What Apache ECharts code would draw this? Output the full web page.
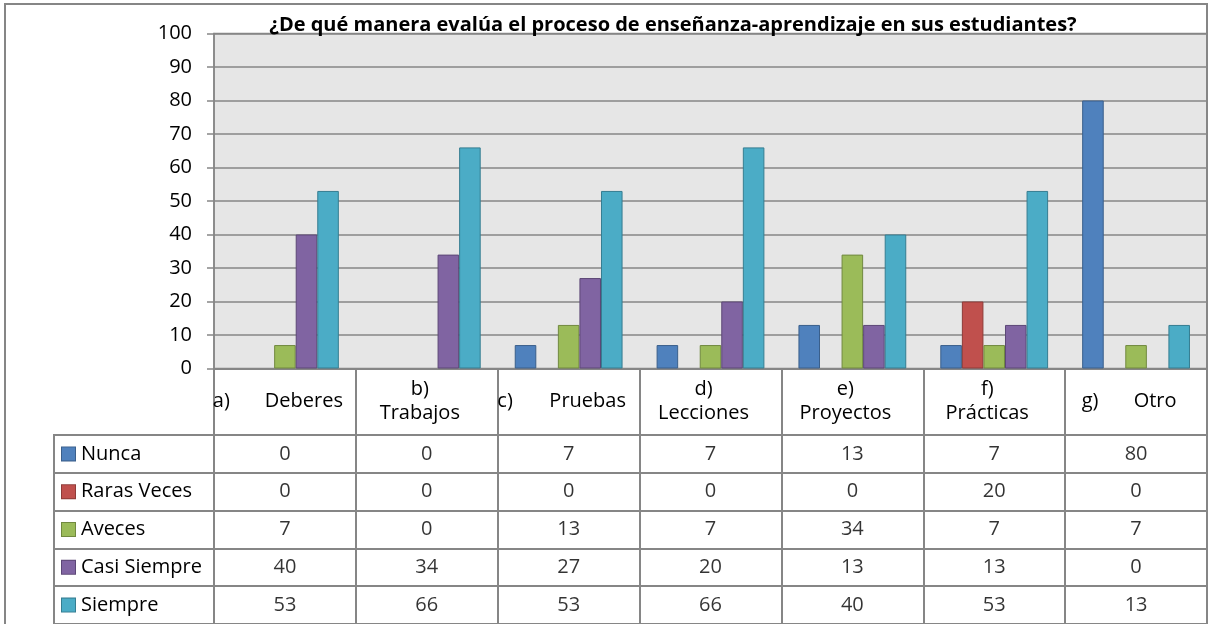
<!DOCTYPE html>
<html>
<head>
<meta charset="utf-8">
<script src="https://cdn.jsdelivr.net/npm/echarts@6/dist/echarts.min.js"></script>
<style>
  html, body { margin: 0; padding: 0; background: #fff; }
  #chart { width: 1208px; height: 624px; }
</style>
</head>
<body>
<div id="chart"></div>
<script>
const title = '¿De qué manera evalúa el proceso de enseñanza-aprendizaje en sus estudiantes?';
const categories = ['a)\tDeberes', 'b)\nTrabajos', 'c)\tPruebas', 'd)\nLecciones', 'e)\nProyectos', 'f)\nPrácticas', 'g)\tOtro'];
const seriesNames = ['Nunca', 'Raras Veces', 'Aveces', 'Casi Siempre', 'Siempre'];

const nunca = [0, 0, 7, 7, 13, 7, 80];
const rarasVeces = [0, 0, 0, 0, 0, 20, 0];
const aveces = [7, 0, 13, 7, 34, 7, 7];
const casiSiempre = [40, 34, 27, 20, 13, 13, 0];
const siempre = [53, 66, 53, 66, 40, 53, 13];

const colors = ['#4F81BD', '#C0504D', '#9BBB59', '#8064A2', '#4BACC6'];
const borders = ['#3A5F8B', '#8E3B38', '#71893F', '#5C4776', '#357D91'];

const allValues = [nunca, rarasVeces, aveces, casiSiempre, siempre];
const lineGrey = '#868686';
const FONT = 'Open Sans';

// legend swatches for the data table
const legendRich = { n: { fontSize: 20, color: '#000', fontFamily: FONT, padding: [0, 0, 0, 6] } };
colors.forEach((c, i) => {
  legendRich['s' + i] = { width: 13, height: 13, backgroundColor: c, borderColor: borders[i], borderWidth: 1 };
});

const barSeries = seriesNames.map((name, i) => ({
  name: name,
  type: 'bar',
  xAxisIndex: 0,
  yAxisIndex: 0,
  barGap: '0%',
  barCategoryGap: '24%',
  itemStyle: { color: colors[i], borderColor: borders[i], borderWidth: 1 },
  // Excel draws nothing for a zero value
  data: allValues[i].map(v => (v === 0 ? '-' : v))
}));

const tableData = [];
allValues.forEach((vals, s) => {
  vals.forEach((v, c) => tableData.push([c, s, v]));
});

const option = {
  animation: false,
  textStyle: { fontFamily: FONT },
  title: {
    text: title,
    left: 668,
    top: 10,
    textAlign: 'center',
    textStyle: { fontSize: 20, fontWeight: 'bold', color: '#000', fontFamily: FONT }
  },
  graphic: [{
    type: 'rect',
    shape: { x: 5, y: 4, width: 1202, height: 640 },
    style: { fill: 'none', stroke: lineGrey, lineWidth: 2 },
    z: 100
  }],
  grid: [
    { left: 214, right: 1, top: 33.5, height: 335, show: true, backgroundColor: '#e6e6e6', borderColor: lineGrey, borderWidth: 1.5 },
    { left: 214, right: 1, top: 369, height: 66, show: true, borderColor: lineGrey, borderWidth: 2 },
    { left: 214, right: 1, top: 435, height: 190, show: true, borderColor: lineGrey, borderWidth: 2 },
    { left: 54, width: 160, top: 435, height: 190, show: true, borderColor: lineGrey, borderWidth: 2 }
  ],
  xAxis: [
    {
      gridIndex: 0,
      type: 'category',
      data: categories,
      axisLine: { lineStyle: { color: lineGrey, width: 1.5 } },
      axisTick: { show: false },
      axisLabel: {
        interval: 0,
        margin: 33,
        verticalAlign: 'middle',
        fontSize: 20,
        lineHeight: 24,
        color: '#000',
        padding: [0, 14, 0, 0],
        formatter: v => {
          if (v.indexOf('\t') >= 0) {
            const p = v.split('\t');
            return '{k|' + p[0] + '}{v|' + p[1] + '}';
          }
          return v;
        },
        rich: {
          k: { width: 52, align: 'left', fontSize: 20, color: '#000', fontFamily: FONT },
          v: { fontSize: 20, color: '#000', fontFamily: FONT }
        }
      }
    },
    {
      gridIndex: 1, type: 'category', data: categories,
      axisLine: { show: false }, axisTick: { show: false }, axisLabel: { show: false },
      splitLine: { show: true, lineStyle: { color: lineGrey, width: 2 } }
    },
    {
      gridIndex: 2, type: 'category', data: categories,
      axisLine: { show: false }, axisTick: { show: false }, axisLabel: { show: false },
      splitLine: { show: true, lineStyle: { color: lineGrey, width: 2 } }
    },
    { gridIndex: 3, type: 'value', min: 0, max: 1, show: false }
  ],
  yAxis: [
    {
      gridIndex: 0,
      type: 'value',
      min: 0,
      max: 100,
      interval: 10,
      axisLine: { show: true, lineStyle: { color: lineGrey, width: 1.5 } },
      axisTick: { show: true, length: 7, lineStyle: { color: lineGrey, width: 1.5 } },
      axisLabel: { fontSize: 20, color: '#000', margin: 22 },
      splitLine: { show: true, lineStyle: { color: lineGrey, width: 1.5 } }
    },
    { gridIndex: 1, type: 'value', show: false },
    {
      gridIndex: 2, type: 'category', data: seriesNames, inverse: true,
      axisLine: { show: false }, axisTick: { show: false }, axisLabel: { show: false },
      splitLine: { show: true, lineStyle: { color: lineGrey, width: 2 } }
    },
    {
      gridIndex: 3, type: 'category', data: seriesNames, inverse: true,
      axisLine: { show: false }, axisTick: { show: false },
      axisLabel: {
        inside: true,
        margin: 8,
        formatter: (v, i) => '{s' + i + '|}{n|' + v + '}',
        rich: legendRich
      },
      splitLine: { show: true, lineStyle: { color: lineGrey, width: 2 } }
    }
  ],
  series: barSeries.concat([{
    type: 'scatter',
    xAxisIndex: 2,
    yAxisIndex: 2,
    symbolSize: 1,
    itemStyle: { color: 'rgba(0,0,0,0)' },
    label: {
      show: true,
      position: 'inside',
      fontSize: 20,
      color: '#000',
      fontFamily: FONT,
      formatter: p => String(p.value[2])
    },
    data: tableData
  }])
};

const myChart = echarts.init(document.getElementById('chart'));
myChart.setOption(option);
</script>
</body>
</html>
